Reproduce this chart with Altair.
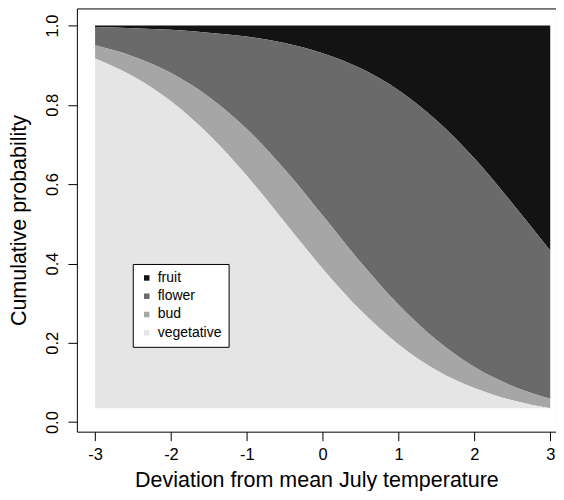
import altair as alt
import pandas as pd

# Deviation from mean July temperature (x) and cumulative probabilities
x_vals = [-3.0, -2.5, -2.0, -1.5, -1.0, -0.5, 0.0, 0.5, 1.0, 1.5, 2.0, 2.5, 3.0]
cum_fruit = [1.0, 1.0, 1.0, 1.0, 1.0, 1.0, 1.0, 1.0, 1.0, 1.0, 1.0, 1.0, 1.0]
cum_flower = [0.996, 0.993, 0.989, 0.982, 0.972, 0.956, 0.930, 0.892, 0.837, 0.761, 0.665, 0.552, 0.433]
cum_bud = [0.950, 0.922, 0.880, 0.820, 0.739, 0.637, 0.521, 0.403, 0.296, 0.207, 0.139, 0.091, 0.059]
cum_veg = [0.917, 0.872, 0.809, 0.725, 0.621, 0.504, 0.387, 0.282, 0.196, 0.131, 0.086, 0.055, 0.035]
base = 0.035

stages = ["fruit", "flower", "bud", "vegetative"]
colors = ["#131313", "#6a6a6a", "#a6a6a6", "#e5e5e5"]

rows = []
for i, xv in enumerate(x_vals):
    bands = {
        "fruit": (cum_flower[i], cum_fruit[i]),
        "flower": (cum_bud[i], cum_flower[i]),
        "bud": (cum_veg[i], cum_bud[i]),
        "vegetative": (base, cum_veg[i]),
    }
    for s in stages:
        lo, hi = bands[s]
        rows.append({"x": xv, "stage": s, "lo": lo, "hi": hi})
df = pd.DataFrame(rows)

FONT = "Liberation Sans"

chart = alt.Chart(df).mark_area(interpolate="monotone", clip=True).encode(
    x=alt.X("x:Q",
            scale=alt.Scale(domain=[-3.24, 3.076], nice=False, zero=False),
            axis=alt.Axis(values=[-3, -2, -1, 0, 1, 2, 3], labelExpr="'' + datum.value",
                          title="Deviation from mean July temperature",
                          tickSize=9, labelPadding=6, titlePadding=6,
                          labelFontSize=16.5, titleFontSize=21.5, labelFlush=False,
                          titleFontWeight="normal")),
    y=alt.Y("hi:Q",
            scale=alt.Scale(domain=[-0.024, 1.043], nice=False, zero=False),
            axis=alt.Axis(values=[0, 0.2, 0.4, 0.6, 0.8, 1.0], labelExpr="format(datum.value, '.1f')",
                          title="Cumulative probability",
                          tickSize=9, labelPadding=7.5, titlePadding=13.5,
                          labelAngle=270, labelAlign="center", labelBaseline="bottom",
                          labelFontSize=16.5, titleFontSize=21.5, labelFlush=False,
                          titleFontWeight="normal")),
    y2="lo:Q",
    color=alt.Color("stage:N",
                    scale=alt.Scale(domain=stages, range=colors),
                    legend=alt.Legend(title=None, orient="none", legendX=56, legendY=256,
                                      symbolType="square", symbolSize=30, symbolStrokeWidth=0,
                                      labelFontSize=14, labelFont=FONT, labelOffset=4,
                                      rowPadding=4.3, padding=7, strokeColor="black",
                                      fillColor="white", symbolOpacity=1)),
).properties(width=480, height=424, background="white", padding=0)

chart = chart.configure_view(stroke="black", strokeWidth=1).configure_axis(
    domain=False, grid=False, tickColor="black", labelColor="black", titleColor="black",
    labelFont=FONT, titleFont=FONT, titleFontWeight="normal", tickWidth=1
)

chart.save("out.html", embed_options={"renderer": "svg", "actions": False})
